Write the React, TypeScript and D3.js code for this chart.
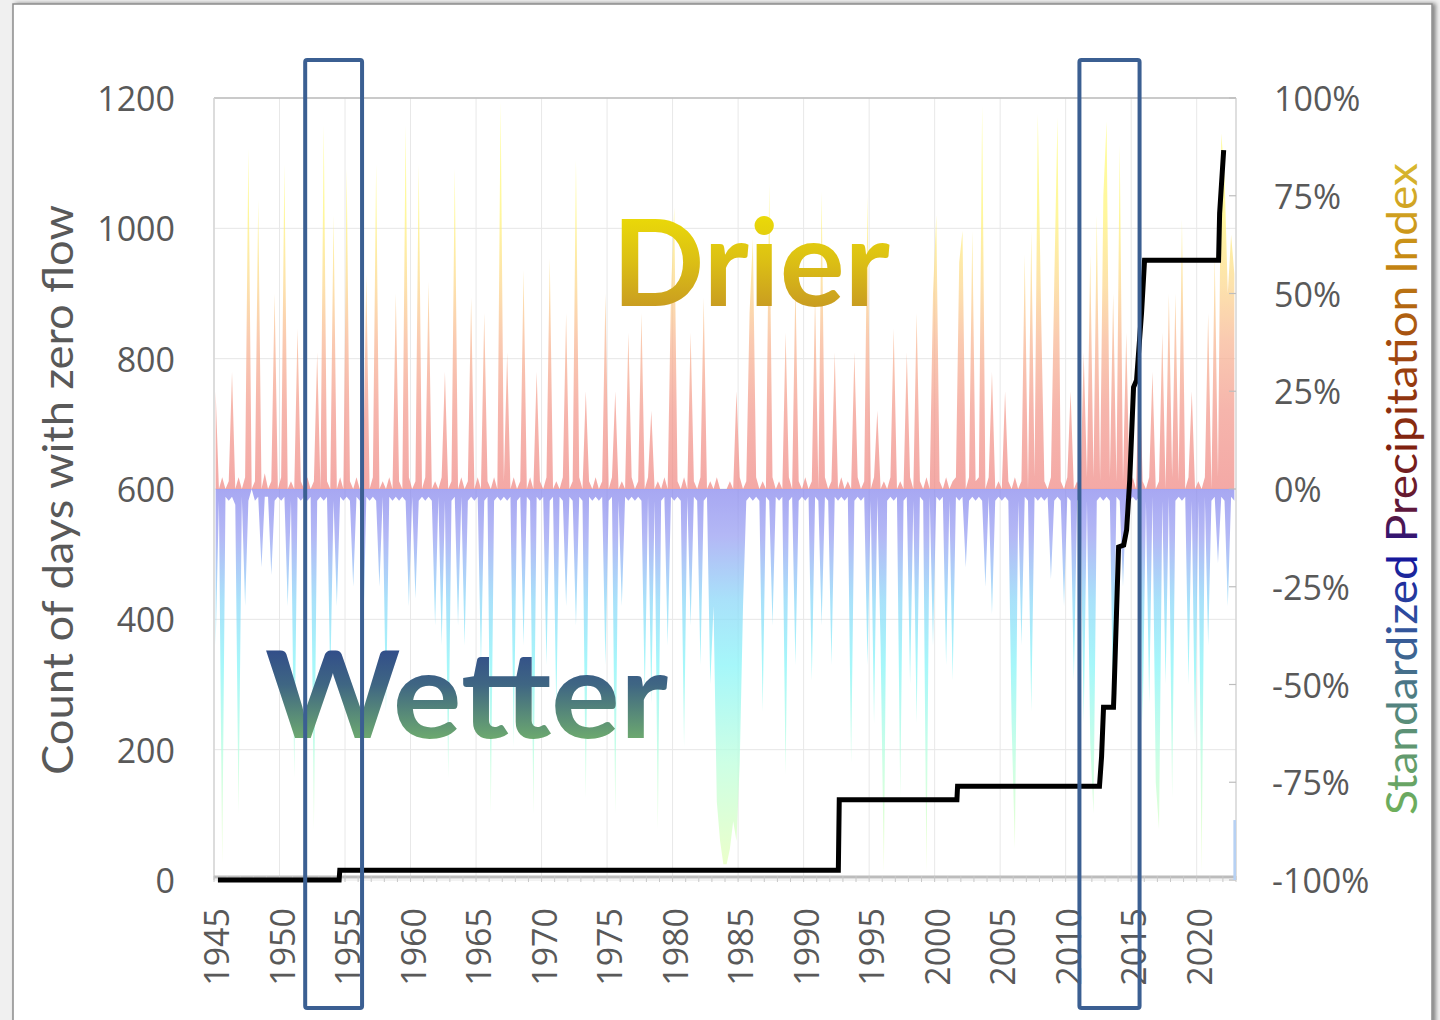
import React from "react";
import * as d3 from "d3";

// ---------- data ----------
const xTickYears = [1945, 1950, 1955, 1960, 1965, 1970, 1975, 1980, 1985, 1990, 1995, 2000, 2005, 2010, 2015, 2020];
const leftTickValues = [0, 200, 400, 600, 800, 1000, 1200];
const rightTickValues = [-100, -75, -50, -25, 0, 25, 50, 75, 100];

const spiStartYear = 1945; // quarterly values, 4 per year
// Drier (positive) part of the Standardized Precipitation Index, %
const drierSpi = [
  25, 0, 3, 0, /*1946*/ 2, 30, 0, 3, /*1947*/ 0, 3, 87, 0, /*1948*/ 2, 74, 0, 4, /*1949*/ 0, 2, 50, 0,
  3, 83, 0, 2, /*1951*/ 0, 41, 2, 0, /*1952*/ 3, 0, 2, 35, /*1953*/ 0, 93, 2, 0, /*1954*/ 70, 0, 3, 0,
  82, 2, 0, 3, /*1956*/ 0, 2, 55, 0, /*1957*/ 3, 83, 0, 2, /*1958*/ 0, 3, 0, 50, /*1959*/ 2, 0, 93, 3,
  0, 2, 83, 0, /*1961*/ 3, 53, 0, 2, /*1962*/ 0, 3, 30, 0, /*1963*/ 2, 82, 0, 3, /*1964*/ 0, 2, 49, 0,
  3, 0, 45, 2, /*1966*/ 0, 3, 0, 99, /*1967*/ 2, 35, 0, 3, /*1968*/ 0, 2, 56, 0, /*1969*/ 3, 0, 30, 2,
  0, 3, 59, 0, /*1971*/ 2, 0, 3, 45, /*1972*/ 0, 2, 84, 3, /*1973*/ 0, 25, 2, 0, /*1974*/ 3, 0, 2, 50,
  0, 3, 25, 0, /*1976*/ 2, 0, 40, 3, /*1977*/ 0, 2, 45, 0, /*1978*/ 3, 20, 0, 2, /*1979*/ 0, 3, 0, 50,
  72, 2, 0, 3, /*1981*/ 0, 40, 2, 0, /*1982*/ 3, 49, 0, 2, /*1983*/ 0, 3, 0, 0, /*1984*/ 0, 2, 0, 25,
  3, 0, 2, 45, /*1986*/ 64, 3, 0, 2, /*1987*/ 0, 78, 3, 0, /*1988*/ 2, 0, 40, 3, /*1989*/ 0, 53, 2, 0,
  3, 0, 2, 50, /*1991*/ 0, 76, 3, 0, /*1992*/ 2, 35, 0, 3, /*1993*/ 0, 2, 0, 35, /*1994*/ 3, 0, 2, 75,
  0, 3, 20, 0, /*1996*/ 2, 0, 3, 41, /*1997*/ 0, 2, 0, 35, /*1998*/ 3, 0, 45, 2, /*1999*/ 0, 3, 0, 50,
  70, 2, 0, 3, /*2001*/ 0, 2, 3, 58, /*2002*/ 66, 0, 3, 66, /*2003*/ 2, 3, 98, 0, /*2004*/ 3, 30, 0, 2,
  0, 25, 2, 0, /*2006*/ 3, 0, 2, 60, /*2007*/ 0, 66, 3, 96, /*2008*/ 45, 2, 0, 3, /*2009*/ 52, 95, 2, 0,
  3, 25, 0, 2, /*2011*/ 0, 35, 3, 60, /*2012*/ 3, 70, 2, 75, /*2013*/ 94, 3, 50, 2, /*2014*/ 88, 2, 40, 0,
  3, 0, 35, 2, /*2016*/ 0, 3, 30, 0, /*2017*/ 2, 40, 0, 50, /*2018*/ 3, 50, 2, 69, /*2019*/ 0, 3, 25, 0,
  2, 0, 3, 45, /*2021*/ 0, 60, 3, 91, /*2022*/ 80, 50, 65, 55,
];
// Wetter (negative) part of the Standardized Precipitation Index, %
const wetterSpi = [
  -40, -3, -96, -2, /*1946*/ -3, -2, -4, -83, /*1947*/ -2, -30, -3, 0, /*1948*/ -3, -2, -20, -2, /*1949*/ -2, -22, -3, -2,
  -3, -2, -30, -3, /*1951*/ -74, -2, -3, -2, /*1952*/ -3, -2, -87, -3, /*1953*/ -2, -3, -2, -49, /*1954*/ -3, -30, -2, -3,
  -2, -3, -25, -2, /*1956*/ -3, -40, -2, -3, /*1957*/ -2, -3, -25, -2, /*1958*/ -57, -2, -3, -2, /*1959*/ -3, -2, -3, -30,
  -2, -28, -3, -2, /*1961*/ -3, -2, -3, -35, /*1962*/ -2, -40, -3, -74, /*1963*/ -3, -2, -35, -2, /*1964*/ -40, -3, -2, -3,
  -2, -45, -3, -2, /*1966*/ -83, -3, -2, -3, /*1967*/ -2, -3, -2, -66, /*1968*/ -3, -2, -40, -2, /*1969*/ -3, -83, -2, -3,
  -2, -45, -3, -2, /*1971*/ -57, -2, -3, -30, /*1972*/ -2, -3, -35, -2, /*1973*/ -3, -79, -2, -3, /*1974*/ -2, -3, -2, -45,
  -3, -2, -83, -3, /*1976*/ -30, -2, -3, -2, /*1977*/ -3, -2, -3, -53, /*1978*/ -2, -55, -3, -87, /*1979*/ -3, -2, -40, -2,
  -3, -2, -3, -66, /*1981*/ -2, -35, -2, -3, /*1982*/ -45, -3, -2, -50, /*1983*/ -30, -80, -90, -96, /*1984*/ -96, -92, -85, -90,
  -70, -30, -3, -2, /*1986*/ -3, -2, -3, -57, /*1987*/ -2, -3, -35, -2, /*1988*/ -3, -2, -73, -3, /*1989*/ -2, -45, -3, -2,
  -3, -2, -49, -2, /*1991*/ -3, -35, -2, -3, /*1992*/ -45, -2, -3, -2, /*1993*/ -3, -2, -70, -3, /*1994*/ -2, -3, -2, -45,
  -3, -60, -2, -40, /*1996*/ -98, -3, -2, -3, /*1997*/ -2, -79, -3, -2, /*1998*/ -50, -3, -60, -2, /*1999*/ -3, -98, -2, -40,
  -2, -3, -2, -45, /*2001*/ -3, -49, -2, -3, /*2002*/ -2, -20, -3, -2, /*2003*/ -3, -2, -3, -25, /*2004*/ -2, -32, -3, -2,
  -3, -2, -3, -60, /*2006*/ -92, -3, -40, -2, /*2007*/ -3, -57, -2, -3, /*2008*/ -2, -3, -2, -23, /*2009*/ -3, -2, -3, -30,
  -2, -3, -49, -3, /*2011*/ -2, -60, -3, -65, /*2012*/ -83, -3, -2, -3, /*2013*/ -2, -3, -57, -2, /*2014*/ -3, -25, -2, -3,
  -2, -3, -2, -60, /*2016*/ -3, -55, -2, -75, /*2017*/ -87, -3, -50, -2, /*2018*/ -79, -3, -2, -3, /*2019*/ -2, -50, -3, -65,
  -3, -98, -2, -40, /*2021*/ -3, -2, -19, -2, /*2022*/ -3, -30, -2, -3,
];

// Cumulative count of days with zero flow
const zeroFlowYear = [
  1945.3, 1954.55, 1954.6, 1992.65, 1992.72, 2001.7, 2001.75, 2012.58, 2012.74, 2012.89,
  2013.65, 2013.69, 2013.88, 2014.04, 2014.43, 2014.65, 2014.89, 2015.18, 2015.41, 2015.79,
  2016.02, 2021.67, 2021.75, 2022.06,
];
const zeroFlowDays = [
  0, 0, 15, 15, 123, 123, 144, 144, 189, 265,
  265, 287, 410, 511, 514, 537, 614, 756, 767, 870,
  951, 951, 1023, 1120,
];

const latestBarYears = [2022.8, 2023.0];
const latestBarDays = 92;

const highlightPeriods = [
  [1951.96, 1956.3],
  [2011.05, 2015.64],
];

// ---------- component ----------
const numFont = "'Open Sans', 'Noto Sans', sans-serif";
const titleFont = "Lato, 'Open Sans', sans-serif";
const axisGrey = "#595959";

export default function App() {
  const W = 1440;
  const H = 1020;
  const plot = { left: 214, right: 1236, top: 98, bottom: 880 };

  const x = d3.scaleLinear().domain([1945, 2023]).range([plot.left, plot.right]);
  const yDays = d3.scaleLinear().domain([0, 1200]).range([plot.bottom, plot.top]);
  const ySpi = d3.scaleLinear().domain([-100, 100]).range([plot.bottom, plot.top]);

  const spiX = (i: number) => x(spiStartYear + i / 4 + 0.125);
  const drierPath = d3
    .area<number>()
    .x((_, i) => spiX(i))
    .y0(ySpi(0))
    .y1((d) => ySpi(d))(drierSpi) as string;
  const wetterPath = d3
    .area<number>()
    .x((_, i) => spiX(i))
    .y0(ySpi(0))
    .y1((d) => ySpi(d))(wetterSpi) as string;

  const zeroFlowPath = d3
    .line<number>()
    .x((yr) => x(yr))
    .y((_, i) => yDays(zeroFlowDays[i]))(zeroFlowYear) as string;

  const minorYears = d3.range(1945, 2024);
  const zeroY = ySpi(0);

  return (
    <svg
      width={W}
      height={H}
      viewBox={`0 0 ${W} ${H}`}
      style={{ position: "absolute", left: 0, top: 0, display: "block" }}
    >
      <defs>
        <linearGradient id="warm" gradientUnits="userSpaceOnUse" x1={0} y1={plot.top} x2={0} y2={zeroY}>
          <stop offset="0" stopColor="#ffff80" />
          <stop offset="0.3" stopColor="#fff47c" />
          <stop offset="0.48" stopColor="#fcd890" />
          <stop offset="0.62" stopColor="#f8b896" />
          <stop offset="0.8" stopColor="#f39c90" />
          <stop offset="1" stopColor="#f08c88" />
        </linearGradient>
        <linearGradient id="cool" gradientUnits="userSpaceOnUse" x1={0} y1={zeroY} x2={0} y2={plot.bottom}>
          <stop offset="0" stopColor="#8a8aee" />
          <stop offset="0.12" stopColor="#9aa0f2" />
          <stop offset="0.28" stopColor="#8cd6f8" />
          <stop offset="0.45" stopColor="#88f4f8" />
          <stop offset="0.7" stopColor="#bcffdc" />
          <stop offset="1" stopColor="#eaffb4" />
        </linearGradient>
        <linearGradient id="drierText" x1="0" y1="0" x2="0" y2="1">
          <stop offset="0" stopColor="#f3ea00" />
          <stop offset="0.5" stopColor="#dcc014" />
          <stop offset="1" stopColor="#bf8a28" />
        </linearGradient>
        <linearGradient id="wetterText" x1="0" y1="0" x2="0" y2="1">
          <stop offset="0" stopColor="#26398f" />
          <stop offset="0.45" stopColor="#3f6683" />
          <stop offset="1" stopColor="#82c866" />
        </linearGradient>
        <linearGradient id="spiTitle" x1="0" y1="0" x2="1" y2="0">
          <stop offset="0" stopColor="#6fb05a" />
          <stop offset="0.14" stopColor="#5a8e78" />
          <stop offset="0.3" stopColor="#2f4f9e" />
          <stop offset="0.4" stopColor="#14149a" />
          <stop offset="0.46" stopColor="#5a1840" />
          <stop offset="0.56" stopColor="#7e2010" />
          <stop offset="0.72" stopColor="#a24a10" />
          <stop offset="0.86" stopColor="#c88c14" />
          <stop offset="1" stopColor="#d8b830" />
        </linearGradient>
        <filter id="shadow" x="-5%" y="-5%" width="110%" height="110%">
          <feDropShadow dx="3" dy="0" stdDeviation="2" floodColor="#000" floodOpacity="0.45" />
        </filter>
      </defs>

      {/* page background and frame */}
      <rect x={0} y={0} width={W} height={H} fill="#f0f0f0" />
      <rect x={13} y={4} width={1419} height={1030} fill="#ffffff" stroke="#8c8c8c" strokeWidth={1.5} filter="url(#shadow)" />

      {/* gridlines */}
      {leftTickValues.map((v) => (
        <line key={"h" + v} x1={plot.left} x2={plot.right} y1={yDays(v)} y2={yDays(v)} stroke="#e6e6e6" strokeWidth={1} />
      ))}
      {xTickYears.map((yr) => (
        <line key={"v" + yr} x1={x(yr)} x2={x(yr)} y1={plot.top} y2={plot.bottom} stroke="#e8e8e8" strokeWidth={1} />
      ))}

      {/* SPI areas */}
      <path d={drierPath} fill="url(#warm)" fillOpacity={0.75} />
      <path d={wetterPath} fill="url(#cool)" fillOpacity={0.75} />

      {/* plot frame */}
      <line x1={plot.left} x2={plot.right} y1={plot.top} y2={plot.top} stroke="#bdbdbd" strokeWidth={1.5} />
      <line x1={plot.left} x2={plot.left} y1={plot.top} y2={plot.bottom} stroke="#d4d4d4" strokeWidth={1.5} />
      <line x1={plot.right} x2={plot.right} y1={plot.top} y2={plot.bottom} stroke="#d4d4d4" strokeWidth={1.5} />
      {rightTickValues.map((v) => (
        <line key={"rt" + v} x1={plot.right - 7} x2={plot.right} y1={ySpi(v)} y2={ySpi(v)} stroke="#bdbdbd" strokeWidth={1.2} />
      ))}

      {/* baseline with minor ticks */}
      <line x1={plot.left} x2={plot.right} y1={plot.bottom - 3} y2={plot.bottom - 3} stroke="#bcbcbc" strokeWidth={3} />
      {minorYears.map((yr) => (
        <line key={"m" + yr} x1={x(yr)} x2={x(yr)} y1={plot.bottom - 4} y2={plot.bottom + 2} stroke="#c8c8c8" strokeWidth={1} />
      ))}

      {/* latest bar */}
      <rect
        x={x(latestBarYears[0])}
        y={yDays(latestBarDays)}
        width={x(latestBarYears[1]) - x(latestBarYears[0])}
        height={yDays(0) - yDays(latestBarDays)}
        fill="#b7d1f3"
      />

      {/* zero-flow step line */}
      <path d={zeroFlowPath} fill="none" stroke="#000" strokeWidth={5} strokeLinejoin="miter" />

      {/* Drier / Wetter labels */}
      <text
        x={612}
        y={306}
        fontFamily={titleFont}
        fontWeight={700}
        fontSize={120}
        fill="url(#drierText)"
        textLength={278}
        lengthAdjust="spacingAndGlyphs"
      >
        Drier
      </text>
      <text
        x={265}
        y={738}
        fontFamily={titleFont}
        fontWeight={700}
        fontSize={120}
        fill="url(#wetterText)"
        textLength={403}
        lengthAdjust="spacingAndGlyphs"
      >
        Wetter
      </text>

      {/* left axis labels */}
      {leftTickValues.map((v) => (
        <text
          key={"lt" + v}
          x={175}
          y={yDays(v)}
          textAnchor="end"
          dominantBaseline="central"
          fontFamily={numFont}
          fontSize={34}
          fill={axisGrey}
        >
          {v}
        </text>
      ))}
      {/* right axis labels */}
      {rightTickValues.map((v) => (
        <text
          key={"rl" + v}
          x={v < 0 ? 1272 : 1274}
          y={ySpi(v)}
          textAnchor="start"
          dominantBaseline="central"
          fontFamily={numFont}
          fontSize={34}
          fill={axisGrey}
        >
          {v + "%"}
        </text>
      ))}
      {/* x axis labels */}
      {xTickYears.map((yr) => (
        <text
          key={"xl" + yr}
          transform={`translate(${x(yr) + 2}, 908) rotate(-90)`}
          textAnchor="end"
          dominantBaseline="central"
          fontFamily={numFont}
          fontSize={34}
          fill={axisGrey}
        >
          {yr}
        </text>
      ))}

      {/* axis titles */}
      <text
        transform={`translate(57, 490) rotate(-90)`}
        textAnchor="middle"
        dominantBaseline="central"
        fontFamily={titleFont}
        fontSize={42}
        fill={axisGrey}
        textLength={570}
        lengthAdjust="spacingAndGlyphs"
      >
        Count of days with zero flow
      </text>
      <text
        transform={`translate(1401, 489) rotate(-90)`}
        textAnchor="middle"
        dominantBaseline="central"
        fontFamily={titleFont}
        fontSize={42}
        fill="url(#spiTitle)"
        textLength={652}
        lengthAdjust="spacingAndGlyphs"
      >
        Standardized Precipitation Index
      </text>

      {/* highlight boxes */}
      {highlightPeriods.map(([a, b], i) => (
        <rect
          key={"hl" + i}
          x={x(a)}
          y={60}
          width={x(b) - x(a)}
          height={948}
          rx={2}
          fill="none"
          stroke="#3b5f92"
          strokeWidth={4}
        />
      ))}
    </svg>
  );
}
